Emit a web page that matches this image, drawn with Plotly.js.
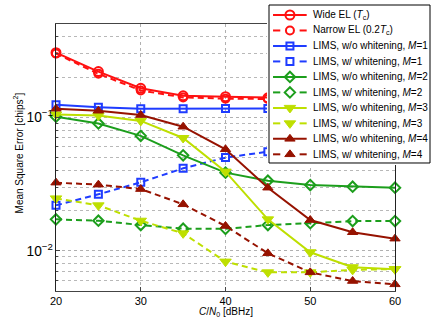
<!DOCTYPE html>
<html>
<head>
<meta charset="utf-8">
<script src="https://cdn.plot.ly/plotly-3.0.1.min.js"></script>
<style>html,body{margin:0;padding:0;background:#fff;}</style>
</head>
<body>
<div id="chart" style="width:436px;height:328px;"></div>
<script>
// C/N0 values (dBHz)
var snr = [20, 25, 30, 35, 40, 45, 50, 55, 60];

// mean square error
var wideEL    = [0.305, 0.220, 0.165, 0.145, 0.1426, 0.140, 0.139, 0.138, 0.138];
var narrowEL  = [0.300, 0.212, 0.159, 0.141, 0.138, 0.137, 0.136, 0.135, 0.135];
var limsM1    = [0.124, 0.119, 0.116, 0.1157, 0.1166, 0.1166, 0.1165, 0.1165, 0.1165];
var limsM1w   = [0.0219, 0.0265, 0.0326, 0.0415, 0.0499, 0.0553, 0.058, 0.060, 0.061];
var limsM2    = [0.101, 0.090, 0.0726, 0.0519, 0.0385, 0.0335, 0.0311, 0.0302, 0.0297];
var limsM2w   = [0.0172, 0.0168, 0.0156, 0.01465, 0.0146, 0.0156, 0.0161, 0.0167, 0.0167];
var limsM3    = [0.105, 0.103, 0.094, 0.070, 0.0392, 0.0172, 0.00975, 0.00753, 0.00727];
var limsM3w   = [0.0247, 0.0219, 0.0168, 0.01352, 0.0083, 0.0069, 0.0069, 0.0072, 0.0073];
var limsM4    = [0.116, 0.112, 0.104, 0.085, 0.0576, 0.0297, 0.0170, 0.01377, 0.01233];
var limsM4w   = [0.0324, 0.0313, 0.0290, 0.0223, 0.01534, 0.00958, 0.0069, 0.00594, 0.00561];

var seriesValues = [wideEL, narrowEL, limsM1, limsM1w, limsM2, limsM2w, limsM3, limsM3w, limsM4, limsM4w];
var seriesNames = [
  'Wide EL (<i>T</i><sub>c</sub>)',
  'Narrow EL (0.2<i>T</i><sub>c</sub>)',
  'LIMS, w/o whitening, <i>M</i>=1',
  'LIMS, w/ whitening, <i>M</i>=1',
  'LIMS, w/o whitening, <i>M</i>=2',
  'LIMS, w/ whitening, <i>M</i>=2',
  'LIMS, w/o whitening, <i>M</i>=3',
  'LIMS, w/ whitening, <i>M</i>=3',
  'LIMS, w/o whitening, <i>M</i>=4',
  'LIMS, w/ whitening, <i>M</i>=4'
];
var xTitle = '<i>C</i>/<i>N</i><sub>0</sub> [dBHz]';
var yTitle = 'Mean Square Error [chips<sup>2</sup>]';

var red = '#ff1010', blue = '#1f3cff', green = '#1c9e1c', lime = '#bedf00', brown = '#961200';
var seriesColors = [red, red, blue, blue, green, green, lime, lime, brown, brown];
var seriesSymbols = ['circle-open', 'circle-open', 'square-open', 'square-open', 'diamond-open', 'diamond-open',
                     'triangle-down', 'triangle-down', 'triangle-up', 'triangle-up'];
var seriesSizes = [9, 8, 7, 7, 8, 8, 10, 10, 9, 9];
var seriesDashed = [false, true, false, true, false, true, false, true, false, true];

var traces = [];
for (var i = 0; i < seriesValues.length; i++) {
  traces.push({
    x: snr,
    y: seriesValues[i],
    xaxis: 'x', yaxis: 'y',
    type: 'scatter',
    mode: 'lines+markers',
    line: {color: seriesColors[i], width: 2, dash: seriesDashed[i] ? '6px,4px' : 'solid'},
    marker: {symbol: seriesSymbols[i], size: seriesSizes[i], color: seriesColors[i],
             line: {color: seriesColors[i], width: seriesSymbols[i].indexOf('open') > 0 ? 2 : 1}},
    cliponaxis: false,
    showlegend: false,
    hoverinfo: 'skip'
  });
}

// hand-made legend on its own little subplot (x2/y2), rows are 0..9
var boxTop = -0.646, boxBot = 9.56;
traces.push({
  x: [0, 1, 1, 0, 0], y: [boxTop, boxTop, boxBot, boxBot, boxTop],
  xaxis: 'x2', yaxis: 'y2', type: 'scatter', mode: 'lines',
  fill: 'toself', fillcolor: '#ffffff', line: {color: '#000', width: 1},
  showlegend: false, hoverinfo: 'skip'
});
var annotations = [];
for (var r = 0; r < seriesNames.length; r++) {
  var lx = seriesDashed[r] ? [0.025, 0.07, null, 0.19, 0.234] : [0.025, 0.234];
  var ly = seriesDashed[r] ? [r, r, null, r, r] : [r, r];
  traces.push({
    x: lx, y: ly, xaxis: 'x2', yaxis: 'y2', type: 'scatter', mode: 'lines',
    line: {color: seriesColors[r], width: 2},
    showlegend: false, hoverinfo: 'skip'
  });
  traces.push({
    x: [0.13], y: [r], xaxis: 'x2', yaxis: 'y2', type: 'scatter', mode: 'markers',
    marker: {symbol: seriesSymbols[r], size: seriesSizes[r], color: seriesColors[r],
             line: {color: seriesColors[r], width: seriesSymbols[r].indexOf('open') > 0 ? 2 : 1}},
    showlegend: false, hoverinfo: 'skip'
  });
  annotations.push({
    x: 0.259, y: r, xref: 'x2', yref: 'y2', xanchor: 'left', yanchor: 'middle',
    text: seriesNames[r], showarrow: false, font: {size: 10, color: '#000'}
  });
}

// axis titles as annotations so they sit where the original has them
annotations.push({
  x: -0.1, y: 0.479, xref: 'paper', yref: 'paper', xanchor: 'center', yanchor: 'middle',
  textangle: -90, text: yTitle, showarrow: false, font: {size: 10, color: '#000'}
});
annotations.push({
  x: 0.4513, y: -0.072, xref: 'paper', yref: 'paper', xanchor: 'center', yanchor: 'middle',
  text: xTitle, showarrow: false, font: {size: 10, color: '#000'}
});

var layout = {
  width: 436, height: 328,
  margin: {l: 56, r: 4, t: 3, b: 37},
  paper_bgcolor: '#fff', plot_bgcolor: '#fff',
  font: {family: 'Liberation Sans, Arial, sans-serif', size: 11, color: '#000'},
  showlegend: false,
  xaxis: {
    domain: [0, 0.9016],
    range: [20, 60], tick0: 20, dtick: 10,
    ticks: 'inside', ticklen: 4, tickcolor: '#444',
    showline: true, mirror: true, linecolor: '#444', linewidth: 1,
    showgrid: true, gridcolor: '#b0b0b0', griddash: 'dot', zeroline: false,
    tickfont: {size: 11},
    fixedrange: true
  },
  yaxis: {
    domain: [0, 0.92708],
    type: 'log',
    range: [Math.log10(0.005), Math.log10(0.5)],
    dtick: 1, exponentformat: 'power',
    ticks: 'inside', ticklen: 4, tickcolor: '#444',
    showline: true, mirror: true, linecolor: '#222', linewidth: 1,
    showgrid: true, gridcolor: '#b0b0b0', griddash: 'dot', zeroline: false,
    minor: {dtick: 'D1', ticks: 'inside', ticklen: 2, tickcolor: '#444',
            showgrid: true, gridcolor: '#b8b8b8', griddash: 'dot'},
    tickfont: {size: 11},
    fixedrange: true
  },
  xaxis2: {domain: [0.5612, 1], anchor: 'y2', range: [-0.0124, 1.0124], visible: false, fixedrange: true},
  yaxis2: {domain: [0.4375, 1], anchor: 'x2', range: [9.69, -0.775], visible: false, fixedrange: true},
  annotations: annotations
};

Plotly.newPlot('chart', traces, layout, {displayModeBar: false, staticPlot: true});
</script>
</body>
</html>
